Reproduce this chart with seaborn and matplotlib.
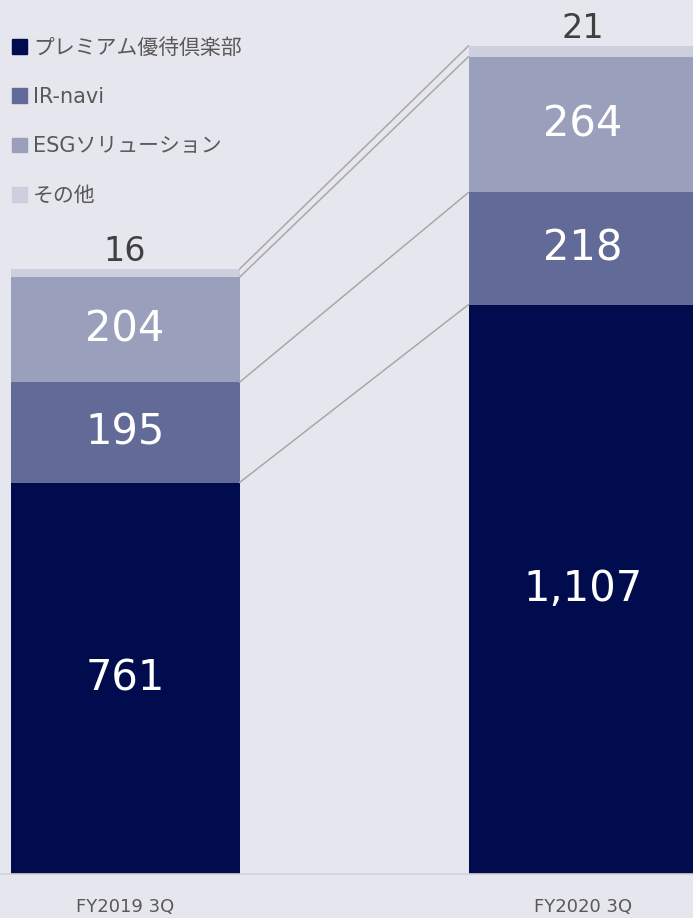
import seaborn as sns
import matplotlib.pyplot as plt
import pandas as pd
import numpy as np

# data
periods = ["FY2019 3Q", "FY2020 3Q"]
segments = ["プレミアム優待倶楽部", "IR-navi", "ESGソリューション", "その他"]
premium = [761, 1107]
irnavi = [195, 218]
esg = [204, 264]
other = [16, 21]

colors = ["#000C4D", "#626B97", "#9A9FBB", "#CDCFDE"]
bg = "#E6E6EE"

values = np.array([premium, irnavi, esg, other])
tops = values.cumsum(axis=0)
bottoms = tops - values

sns.set_style("white")
plt.rcParams['font.family'] = ['DejaVu Sans', 'Noto Sans CJK JP']

fig = plt.figure(figsize=(6.93, 9.18), dpi=100, facecolor=bg)
ax = fig.add_axes([0, 44 / 918, 1, 874 / 918])
ax.set_facecolor(bg)

bar_w = 0.5
# draw cumulative totals from the top segment down, each one covering the previous
for i in range(3, -1, -1):
    df = pd.DataFrame({"period": periods, "value": tops[i]})
    sns.barplot(data=df, x="period", y="value", color=colors[i], saturation=1,
                width=bar_w, linewidth=0, ax=ax)

# connector lines between segment tops
for i in range(4):
    ax.plot([bar_w / 2, 1 - bar_w / 2], [tops[i][0], tops[i][1]],
            color="#A8A8A8", lw=1.1, zorder=1)

# value labels
for i in range(3):
    for j in range(2):
        ax.text(j, bottoms[i][j] + values[i][j] / 2, f"{values[i][j]:,}",
                ha="center", va="center", color="white", fontsize=30)
for j in range(2):
    ax.text(j, tops[3][j] + 2, f"{values[3][j]:,}", ha="center", va="bottom",
            color="#404040", fontsize=24)

ax.set_xlim(-0.273, 1.24)
ax.set_ylim(0, 1699)
ax.set_xlabel("")
ax.set_ylabel("")
ax.set_yticks([])
ax.tick_params(axis="x", length=0, pad=17, labelsize=13, labelcolor="#595959")
for s in ["top", "left", "right"]:
    ax.spines[s].set_visible(False)
ax.spines["bottom"].set_color("#D2D2DA")
ax.spines["bottom"].set_linewidth(1.2)

handles = [plt.Rectangle((0, 0), 1, 1, color=c) for c in colors]
ax.legend(handles, segments, loc="upper left", bbox_to_anchor=(12 / 693, 1 - 38 / 918),
          bbox_transform=fig.transFigure, frameon=False, labelspacing=1.4,
          handlelength=0.72, handleheight=0.72, handletextpad=0.3,
          borderpad=0, borderaxespad=0, labelcolor="#595959",
          prop={"family": ["DejaVu Sans", "Noto Sans CJK JP"], "size": 15})

fig.savefig("out.png", dpi=100, facecolor=bg)
